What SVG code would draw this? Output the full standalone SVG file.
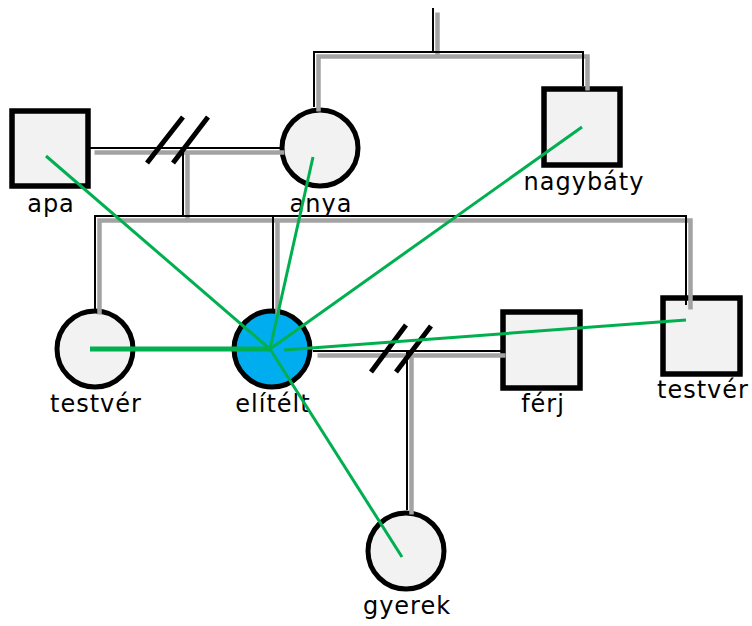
<svg xmlns="http://www.w3.org/2000/svg" width="752" height="626" viewBox="0 0 752 626">
<style>
.nd{fill:#f2f2f2;stroke:#000;stroke-width:5.5}
.ci{stroke-width:5}
.lb{font-family:"DejaVu Sans",Verdana,sans-serif;font-size:24px;letter-spacing:1px;fill:#000;text-anchor:middle}
.ln{fill:none;stroke:#000;stroke-width:2}
.sh{fill:none;stroke:#a3a3a3;stroke-width:4.5}
.sl{stroke:#000;stroke-width:5;fill:none}
.gr{stroke:#00b050;stroke-width:3;fill:none}
</style>
<defs>
<g id="conn">
<path d="M433,8 V52"/>
<path d="M314,107 V52 H583 V86"/>
<path d="M90,148 H280"/>
<path d="M183,148 V216"/>
<path d="M95,310 V216 H686 V305"/>
<path d="M273,216 V310"/>
<path d="M313,351 H501"/>
<path d="M407,351 V510"/>
</g>
</defs>
<g id="nodes">
<g id="apa"><rect class="nd" x="12" y="111" width="76" height="75"/><text class="lb" x="51" y="212">apa</text></g>
<g id="anya"><circle class="nd ci" cx="320" cy="148" r="38"/><text class="lb" x="321" y="212">anya</text></g>
<g id="nagybaty"><rect class="nd" x="544" y="89" width="76" height="76"/><text class="lb" x="584" y="190">nagybáty</text></g>
<g id="testver1"><circle class="nd ci" cx="95" cy="349" r="38"/><text class="lb" x="96" y="412">testvér</text></g>
<g id="elitelt"><circle class="nd ci" cx="272" cy="349" r="38" style="fill:#00aeef"/><text class="lb" x="273" y="412">elítélt</text></g>
<g id="ferj"><rect class="nd" x="503" y="312" width="77" height="76"/><text class="lb" x="543" y="412">férj</text></g>
<g id="testver2"><rect class="nd" x="663" y="298" width="77" height="76"/><text class="lb" x="703" y="398">testvér</text></g>
<g id="gyerek"><circle class="nd ci" cx="406" cy="551" r="38"/><text class="lb" x="407" y="614">gyerek</text></g>
</g>
<g id="connectors">
<use href="#conn" class="sh" transform="translate(4.5,4.5)"/>
<use href="#conn" class="ln"/>
<path class="sl" d="M147,163 L183,117 M173,163 L208,117"/>
<path class="sl" d="M371,372 L406,325 M396,372 L431,326"/>
</g>
<g id="links">
<path class="gr" d="M270,349 L46,156"/>
<path class="gr" d="M270,349 L313,157"/>
<path class="gr" d="M270,349 L582,127"/>
<path class="gr" d="M270,349 L90,349" style="stroke-width:5"/>
<path class="gr" d="M284,350 L686,320"/>
<path class="gr" d="M270,349 L402,557"/>
</g>
</svg>
